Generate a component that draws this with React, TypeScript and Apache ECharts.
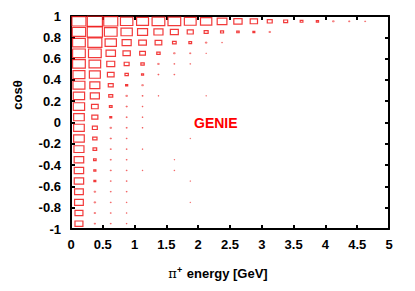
import React, { useEffect, useRef } from "react";
import * as echarts from "echarts";

const energyCenters = [0.125, 0.375, 0.625, 0.875, 1.125, 1.375, 1.625, 1.875, 2.125, 2.375, 2.625, 2.875, 3.125, 3.375, 3.625, 3.875, 4.125, 4.375, 4.625, 4.875];
const cosCenters = [0.95, 0.85, 0.75, 0.65, 0.55, 0.45, 0.35, 0.25, 0.15, 0.05, -0.05, -0.15, -0.25, -0.35, -0.45, -0.55, -0.65, -0.75, -0.85, -0.95];
// relative box size per cell (row = cosθ bin, column = energy bin)
const contentByRow = [
  [0.88, 0.95, 0.88, 0.78, 0.75, 0.8, 0.8, 0.74, 0.71, 0.61, 0.52, 0.46, 0.31, 0.25, 0.17, 0.14, 0.1, 0.08, 0.06, 0],
  [0.84, 0.95, 0.8, 0.71, 0.63, 0.57, 0.5, 0.38, 0.25, 0.19, 0.15, 0.12, 0.1, 0, 0, 0, 0, 0, 0, 0],
  [0.8, 0.88, 0.71, 0.57, 0.48, 0.42, 0.23, 0.17, 0.1, 0.05, 0, 0, 0, 0, 0, 0, 0, 0, 0, 0],
  [0.8, 0.8, 0.59, 0.46, 0.36, 0.21, 0.1, 0.08, 0.04, 0, 0, 0, 0, 0, 0, 0, 0, 0, 0, 0],
  [0.8, 0.73, 0.5, 0.31, 0.21, 0.1, 0.06, 0.05, 0, 0, 0, 0, 0, 0, 0, 0, 0, 0, 0, 0],
  [0.75, 0.69, 0.42, 0.21, 0.13, 0.07, 0.06, 0, 0, 0, 0, 0, 0, 0, 0, 0, 0, 0, 0, 0],
  [0.75, 0.63, 0.31, 0.13, 0.1, 0, 0, 0, 0, 0, 0, 0, 0, 0, 0, 0, 0, 0, 0, 0],
  [0.71, 0.57, 0.25, 0.1, 0.07, 0.05, 0, 0, 0.04, 0, 0, 0, 0, 0, 0, 0, 0, 0, 0, 0],
  [0.71, 0.42, 0.17, 0.08, 0.06, 0, 0, 0, 0, 0, 0, 0, 0, 0, 0, 0, 0, 0, 0, 0],
  [0.67, 0.38, 0.12, 0.07, 0.06, 0, 0, 0, 0, 0, 0, 0, 0, 0, 0, 0, 0, 0, 0, 0],
  [0.67, 0.31, 0.1, 0.07, 0.06, 0, 0, 0, 0, 0, 0, 0, 0, 0, 0, 0, 0, 0, 0, 0],
  [0.67, 0.27, 0.08, 0.06, 0, 0, 0, 0.04, 0, 0, 0, 0, 0, 0, 0, 0, 0, 0, 0, 0],
  [0.63, 0.23, 0.07, 0.06, 0.05, 0, 0, 0, 0, 0, 0, 0, 0, 0, 0, 0, 0, 0, 0, 0],
  [0.6, 0.16, 0.07, 0.06, 0, 0, 0.04, 0, 0, 0, 0, 0, 0, 0, 0, 0, 0, 0, 0, 0],
  [0.59, 0.13, 0.07, 0.06, 0.05, 0, 0.05, 0, 0, 0, 0, 0, 0, 0, 0, 0, 0, 0, 0, 0],
  [0.59, 0.12, 0.06, 0.06, 0, 0, 0, 0.04, 0, 0, 0, 0, 0, 0, 0, 0, 0, 0, 0, 0],
  [0.55, 0.1, 0.06, 0.06, 0, 0, 0, 0, 0, 0, 0, 0, 0, 0, 0, 0, 0, 0, 0, 0],
  [0.55, 0.1, 0.06, 0.05, 0, 0, 0, 0.04, 0, 0, 0, 0, 0, 0, 0, 0, 0, 0, 0, 0],
  [0.5, 0.09, 0.06, 0.05, 0, 0, 0, 0, 0, 0, 0, 0, 0, 0, 0, 0, 0, 0, 0, 0],
  [0.5, 0.08, 0.06, 0.05, 0, 0, 0, 0, 0, 0, 0, 0, 0, 0, 0, 0, 0, 0, 0, 0],
];
const binWidthE = 0.25;
const binWidthCos = 0.1;

export default function App() {
  const ref = useRef<HTMLDivElement>(null);
  useEffect(() => {
    if (!ref.current) return;
    const chart = echarts.init(ref.current, null, { renderer: "svg" });
    const data: number[][] = [];
    contentByRow.forEach((row, i) => {
      row.forEach((v, j) => {
        if (v > 0) data.push([energyCenters[j], cosCenters[i], v]);
      });
    });
    const font = "'Liberation Sans', Arial, Helvetica, sans-serif";
    const axisLine = { show: true, onZero: false, lineStyle: { color: "#000", width: 2 } };
    const tick = { show: true, inside: true, length: 4, lineStyle: { color: "#000", width: 2 } };
    const label = { color: "#000", fontFamily: font, fontWeight: "bold" as const, fontSize: 13 };
    chart.setOption({
      animation: false,
      backgroundColor: "#fff",
      grid: { left: 71, right: 26, top: 16, bottom: 62 },
      xAxis: [
        {
          type: "value", min: 0, max: 5, interval: 0.5, position: "bottom",
          axisLine, axisTick: tick, splitLine: { show: false },
          axisLabel: { ...label, margin: 9 },
        },
        {
          type: "value", min: 0, max: 5, interval: 0.5, position: "top",
          axisLine, axisTick: tick, splitLine: { show: false }, axisLabel: { show: false },
        },
      ],
      yAxis: [
        {
          type: "value", min: -1, max: 1, interval: 0.2, position: "left",
          axisLine, axisTick: tick, splitLine: { show: false },
          axisLabel: { ...label, margin: 10, formatter: (v: number) => String(Math.round(v * 10) / 10) },
        },
        {
          type: "value", min: -1, max: 1, interval: 0.2, position: "right",
          axisLine, axisTick: tick, splitLine: { show: false }, axisLabel: { show: false },
        },
      ],
      series: [
        {
          type: "custom",
          xAxisIndex: 0,
          yAxisIndex: 0,
          data,
          renderItem: (params: any, api: any) => {
            const x = api.value(0);
            const y = api.value(1);
            const f = api.value(2);
            const c = api.coord([x, y]);
            const s = api.size([binWidthE, binWidthCos]);
            const w = s[0] * f;
            const h = s[1] * f;
            const small = f < 0.12;
            return {
              type: "rect",
              shape: { x: c[0] - w / 2, y: c[1] - h / 2, width: w, height: h },
              style: { fill: "none", stroke: "#f01818", lineWidth: small ? 1 : 1.2, opacity: small ? 0.5 : 0.85 },
            };
          },
        },
      ],
      graphic: [
        {
          type: "text", left: 194, top: 116,
          style: { text: "GENIE", fill: "#f00", font: `bold 14px ${font}` },
        },
        {
          type: "text", x: 17, y: 95, rotation: Math.PI / 2,
          style: { text: "cosθ", fill: "#000", font: `bold 13px ${font}`, align: "center", verticalAlign: "middle" },
        },
        {
          type: "text", x: 218, y: 273,
          style: {
            text: "{p|π}{s|+} energy [GeV]",
            align: "center", verticalAlign: "middle",
            fill: "#000", font: `bold 13px ${font}`,
            rich: {
              p: { fontFamily: "'DejaVu Serif', serif", fontSize: 13, fill: "#000" },
              s: { fontFamily: font, fontWeight: "bold", fontSize: 9, fill: "#000", verticalAlign: "top", padding: [0, 1, 6, 0] },
            },
          },
        },
      ],
    });
    return () => chart.dispose();
  }, []);
  return <div ref={ref} style={{ position: "absolute", left: 0, top: 0, width: 415, height: 291 }} />;
}
